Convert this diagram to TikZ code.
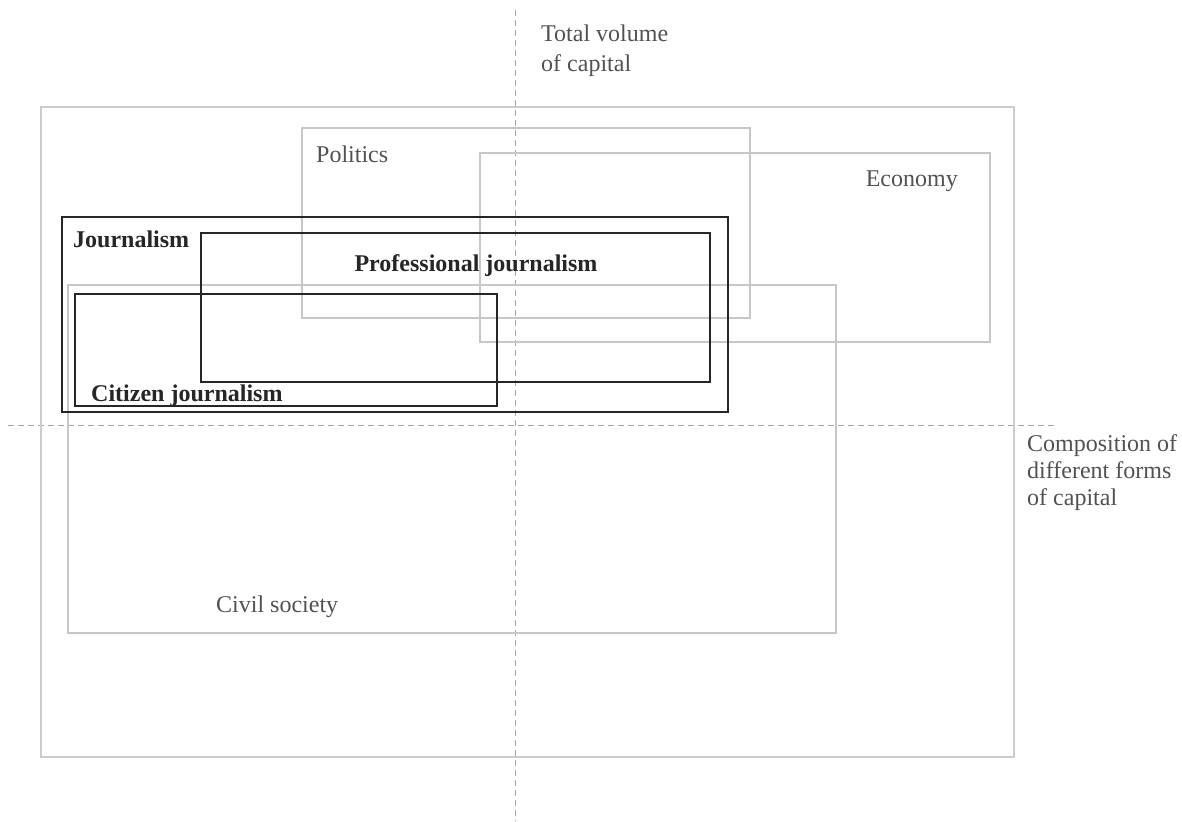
\documentclass[tikz,border=0pt]{standalone}
\usepackage{fontspec}
\setmainfont{Liberation Serif}
\begin{document}
\begin{tikzpicture}[x=1pt,y=-1pt,
  axis/.style={draw=black!35, line width=1pt, dash pattern=on 6pt off 4pt},
  field/.style={draw=black!22, line width=2pt},
  outer/.style={draw=black!20, line width=1.3pt},
  jbox/.style={draw=black!85, line width=2.4pt},
  glabel/.style={text=black!68, font=\fontsize{24}{30}\selectfont, inner sep=0pt},
  blabel/.style={text=black!85, font=\fontsize{24}{30}\selectfont\bfseries, inner sep=0pt}]
\useasboundingbox (0,0) rectangle (1182,821);
\fill[white] (0,0) rectangle (1182,821);
% axes
\coordinate (vtop) at (515,10);
\coordinate (vbot) at (515,821);
\coordinate (hl) at (8,425);
\coordinate (hr) at (1057,425);
\draw[axis] (vtop) -- (vbot);
\draw[axis] (hl) -- (hr);
% outer field
\draw[outer] (41,107) rectangle (1014,757);
% fields
\draw[field] (302,128) rectangle (750,318);
\draw[field] (480,153) rectangle (990,342);
\draw[field] (68,285) rectangle (836,633);
% journalism boxes
\draw[jbox] (62,217) rectangle (728,412);
\draw[jbox] (201,233) rectangle (710,382);
\draw[jbox] (75,294) rectangle (497,406);
% labels
\node[glabel, anchor=base west, align=left] (tv) at (541,72) {Total volume\\of capital};
\node[glabel, anchor=base west, align=left, font=\fontsize{24}{27}\selectfont] (comp) at (1027,505) {Composition of\\different forms\\of capital};
\node[glabel, anchor=base west] (pol) at (316,163) {Politics};
\node[glabel, anchor=base east] (eco) at (958,186) {Economy};
\node[glabel, anchor=base west] (civ) at (216,612) {Civil society};
\node[blabel, anchor=base west] (jou) at (73,247) {Journalism};
\node[blabel, anchor=base] (pro) at (476,271) {Professional journalism};
\node[blabel, anchor=base west] (cit) at (91,401) {Citizen journalism};
\end{tikzpicture}
\end{document}
